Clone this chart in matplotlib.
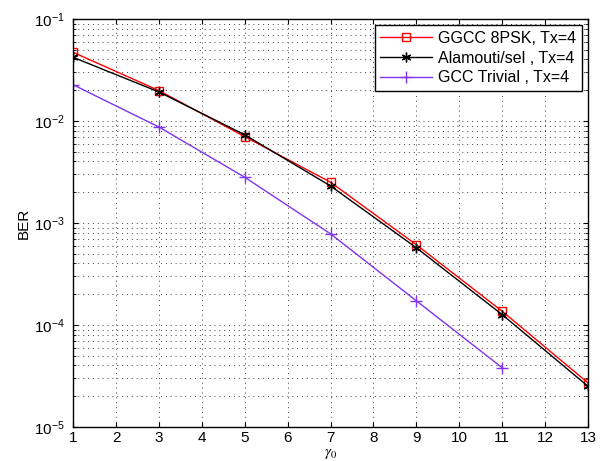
import matplotlib.pyplot as plt
import numpy as np

plt.rcParams['font.family'] = ['Liberation Sans', 'DejaVu Sans']
plt.rcParams['mathtext.fontset'] = 'stix'

#snr points and BER values
snr = [1, 3, 5, 7, 9, 11, 13]
ber_ggcc = [0.047, 0.0198, 0.0070, 0.0025, 6.1e-4, 1.36e-4, 2.7e-5]
ber_alam = [0.042, 0.0192, 0.0073, 0.0023, 5.7e-4, 1.26e-4, 2.5e-5]
snr_gcc = [1, 3, 5, 7, 9, 11]
ber_gcc = [0.0226, 0.0087, 0.0028, 7.8e-4, 1.72e-4, 3.8e-5]

labels = ('GGCC 8PSK, Tx=4', 'Alamouti/sel , Tx=4', 'GCC Trivial , Tx=4')

fig = plt.figure(figsize=(6, 4.61), dpi=100)
ax = fig.add_axes([0.122, 0.074, 0.858, 0.885])

ax.semilogy(snr, ber_ggcc, color='red', marker='s', markersize=6, mfc='none',
            mec='red', lw=1, label=labels[0])
ax.semilogy(snr, ber_alam, color='black', marker=(6, 2, 0), markersize=7, lw=1,
            label=labels[1])
ax.semilogy(snr_gcc, ber_gcc, color='#8033F0', marker='+', markersize=9, lw=1,
            label=labels[2])

ax.set_xlim(1, 13)
ax.set_ylim(1e-5, 1e-1)
ax.set_xticks(range(1, 14))
grid_style = dict(linestyle=(0, (1, 4)), color='#404040', lw=0.7)
ax.grid(True, which='major', **grid_style)
ax.grid(True, which='minor', axis='y', **grid_style)
ax.tick_params(which='both', direction='in', top=True, right=True, labelsize=11)
ax.tick_params(axis='x', pad=3)
ax.tick_params(axis='y', pad=6)
for s in ax.spines.values():
    s.set_linewidth(1)

ax.set_xlabel(r'$\gamma_0$', fontsize=11)
ax.xaxis.set_label_coords(0.5, -0.05)
ax.set_ylabel('BER', fontsize=11, labelpad=2)

leg = ax.legend(loc='upper right', fontsize=11.5, fancybox=False, framealpha=1,
                edgecolor='black', borderaxespad=0.4, handlelength=3.2,
                labelspacing=0.3, borderpad=0.35, handletextpad=0.4)
leg.get_frame().set_linewidth(1)

plt.savefig('out.png', dpi=100)
